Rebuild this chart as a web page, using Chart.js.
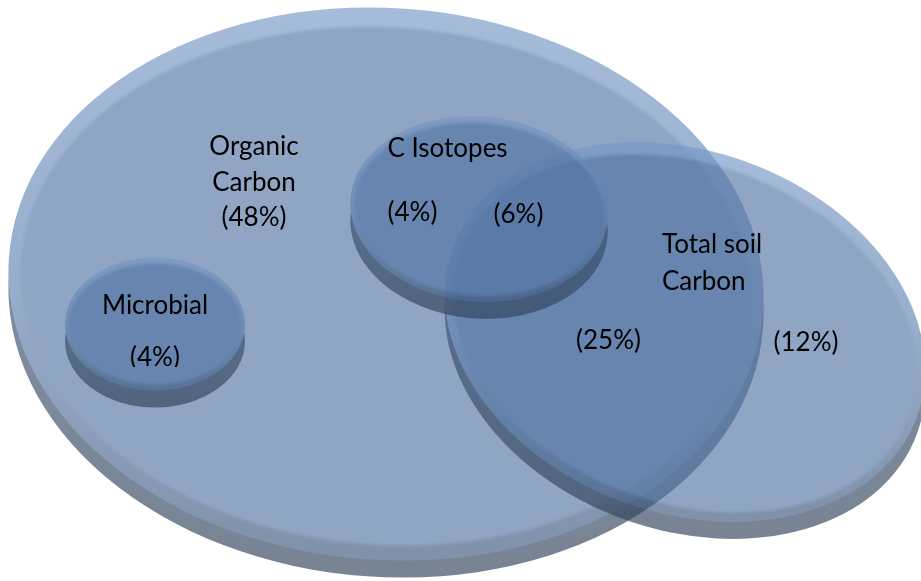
<!DOCTYPE html>
<html><head><meta charset="utf-8">
<script src="https://cdn.jsdelivr.net/npm/chart.js@4/dist/chart.umd.min.js"></script>
<style>html,body{margin:0;padding:0;background:#fff;overflow:hidden}#wrap{width:921px;height:581px;position:relative}</style>
</head><body><div id="wrap"><canvas id="c"></canvas></div>
<script>
// ---- Sets (Venn ellipses, in data units of the hidden axes) ----
const setNames   = ['Organic Carbon', 'Total soil Carbon', 'C Isotopes', 'Microbial'];
const setCenterX = [38.6, 68.5, 47.9, 15.5];
const setCenterY = [28.4, 33.2, 20.9, 32.4];
const setRadiusX = [37.8, 24.7, 12.9, 9.0];
const setRadiusY = [27.6, 18.1, 9.25, 6.65];
const setTilt    = [4, 20, 5, 0];

// ---- Region shares (%) ----
const regionNames    = ['Organic Carbon only', 'C Isotopes only', 'C Isotopes & Total soil', 'Organic & Total soil', 'Total soil only', 'Microbial'];
const regionPercents = [48, 4, 6, 25, 12, 4];

// ---- Text labels (data units) ----
const labelLines = ['Organic', 'Carbon', '(' + regionPercents[0] + '%)', 'C Isotopes', '(' + regionPercents[1] + '%)', '(' + regionPercents[2] + '%)',
                    'Total soil', 'Carbon', '(' + regionPercents[3] + '%)', '(' + regionPercents[4] + '%)', 'Microbial', '(' + regionPercents[5] + '%)'];
const labelX     = [25.4, 25.4, 25.4, 44.75, 41.25, 51.85, 66.2, 66.2, 60.85, 80.6, 15.5, 15.5];
const labelY     = [15.5, 19.1, 22.6, 15.7, 22.1, 22.3, 25.3, 29.0, 34.9, 35.1, 31.4, 36.6];
const labelLeft  = [false, false, false, false, false, false, true, true, false, false, false, false];
const labelCut   = [false, false, false, false, false, false, false, false, false, false, false, true];

const vennPlugin = {
  id: 'venn',
  beforeDatasetsDraw(chart) {
    const ctx = chart.ctx, xs = chart.scales.x, ys = chart.scales.y;
    const W = chart.width, H = chart.height;
    setNames.forEach((name, i) => {
      const cx = xs.getPixelForValue(setCenterX[i]);
      const cy = ys.getPixelForValue(setCenterY[i]);
      const rx = Math.abs(xs.getPixelForValue(setCenterX[i] + setRadiusX[i]) - cx);
      const ry = Math.abs(ys.getPixelForValue(setCenterY[i] + setRadiusY[i]) - cy);
      const rot = setTilt[i] * Math.PI / 180;
      const off = document.createElement('canvas');
      off.width = W; off.height = H;
      const o = off.getContext('2d');
      const depth = 17;
      const bt = Math.max(6, ry * 0.07), bb = Math.max(6, ry * 0.055), bs = Math.max(4, rx * 0.032);
      // side (thickness)
      let g = o.createLinearGradient(0, cy, 0, cy + ry + depth);
      g.addColorStop(0, 'rgb(58,80,110)');
      g.addColorStop(1, 'rgb(48,66,90)');
      o.fillStyle = g;
      o.beginPath(); o.ellipse(cx, cy + depth, rx, ry, rot, 0, Math.PI * 2); o.fill();
      // top bevel
      g = o.createLinearGradient(0, cy - ry, 0, cy + ry);
      g.addColorStop(0, 'rgb(117,152,198)');
      g.addColorStop(0.5, 'rgb(96,130,176)');
      g.addColorStop(1, 'rgb(60,86,124)');
      o.fillStyle = g;
      o.beginPath(); o.ellipse(cx, cy, rx, ry, rot, 0, Math.PI * 2); o.fill();
      // face
      o.filter = 'blur(1.5px)';
      o.fillStyle = 'rgb(83,117,164)';
      o.beginPath(); o.ellipse(cx, cy + (bt - bb) / 2, rx - bs, ry - (bt + bb) / 2, rot, 0, Math.PI * 2); o.fill();
      o.filter = 'none';
      ctx.save();
      ctx.globalAlpha = 0.65;
      ctx.drawImage(off, 0, 0, W, H);
      ctx.restore();
    });
  },
  afterDatasetsDraw(chart) {
    const ctx = chart.ctx, xs = chart.scales.x, ys = chart.scales.y;
    ctx.fillStyle = '#000';
    ctx.font = '26px Lato';
    ctx.textBaseline = 'alphabetic';
    labelLines.forEach((t, i) => {
      const px = xs.getPixelForValue(labelX[i]);
      const py = ys.getPixelForValue(labelY[i]);
      ctx.save();
      if (labelCut[i]) {
        ctx.beginPath();
        ctx.rect(px - 60, py - 40, 120, 41);
        ctx.clip();
      }
      ctx.textAlign = labelLeft[i] ? 'left' : 'center';
      ctx.fillText(t, px, py);
      ctx.restore();
    });
  }
};

new Chart(document.getElementById('c'), {
  type: 'scatter',
  data: {
    datasets: [{
      label: 'labels',
      data: labelX.map((v, i) => ({ x: v, y: labelY[i] })),
      pointRadius: 0,
      pointHoverRadius: 0
    }]
  },
  options: {
    responsive: true,
    maintainAspectRatio: false,
    animation: false,
    layout: { padding: 0 },
    events: [],
    plugins: { legend: { display: false }, tooltip: { enabled: false } },
    scales: {
      x: { type: 'linear', min: 0, max: 92.1, display: false },
      y: { type: 'linear', min: 0, max: 58.1, reverse: true, display: false }
    }
  },
  plugins: [vennPlugin]
});
</script>
</body></html>
